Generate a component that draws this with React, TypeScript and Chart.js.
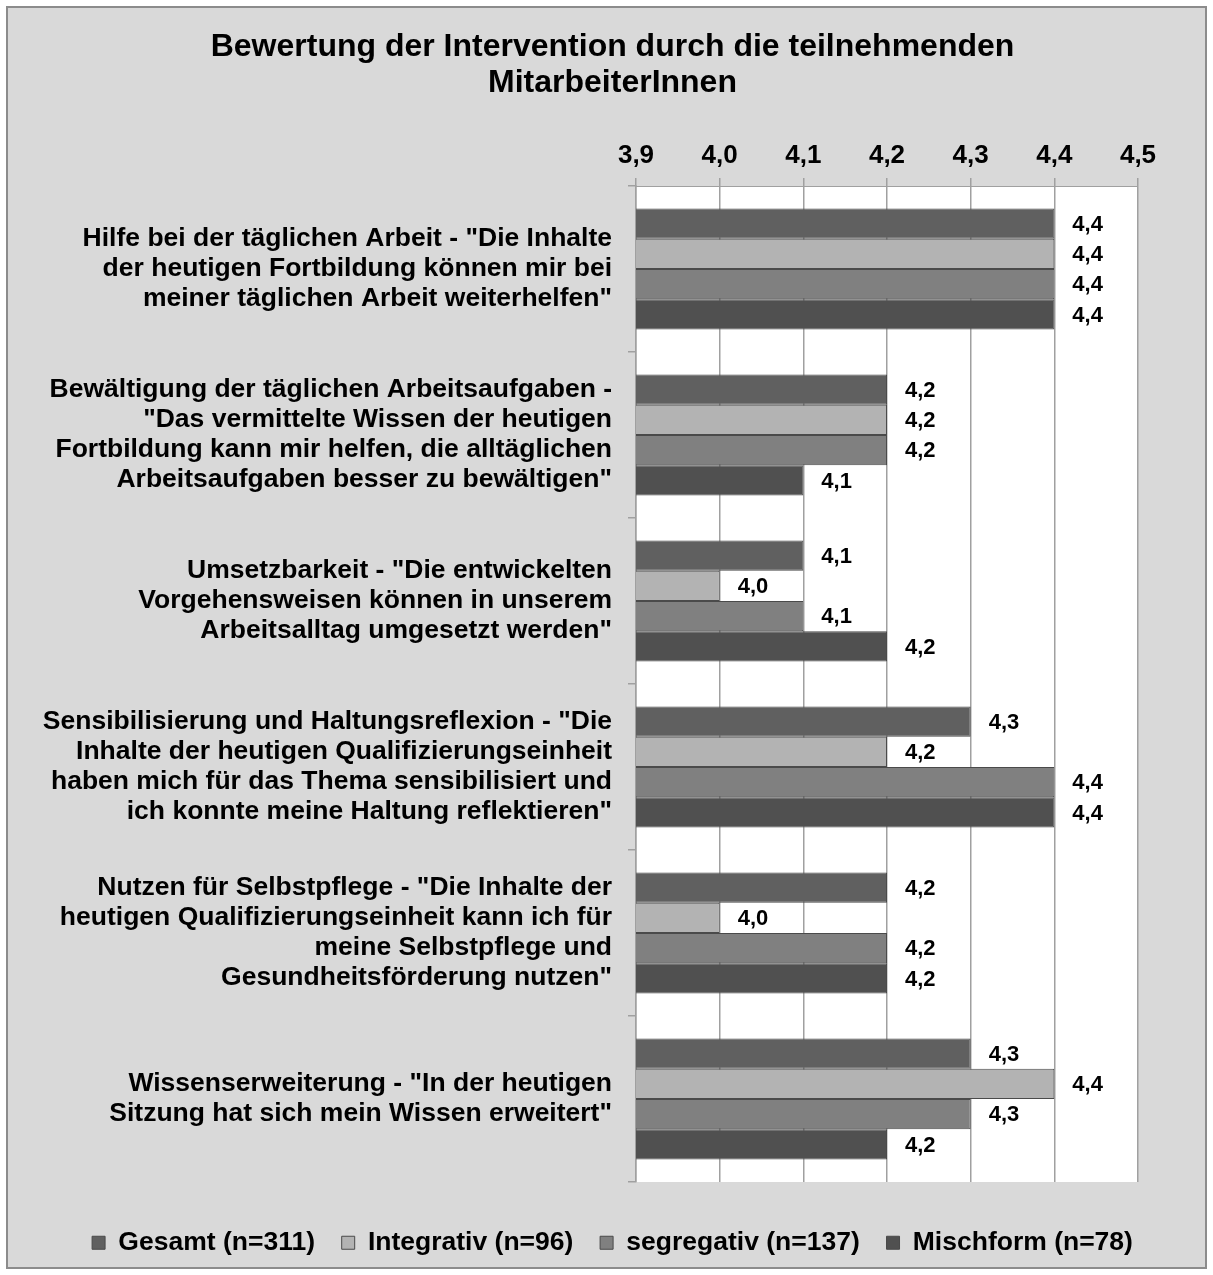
import React, { useEffect, useRef } from "react";
import { Chart, registerables } from "chart.js";

Chart.register(...registerables);

const categories: string[][] = [
  ["Hilfe bei der täglichen Arbeit - \"Die Inhalte", "der heutigen Fortbildung können mir bei", "meiner täglichen Arbeit weiterhelfen\""],
  ["Bewältigung der täglichen Arbeitsaufgaben -", "\"Das vermittelte Wissen der heutigen", "Fortbildung kann mir helfen, die alltäglichen", "Arbeitsaufgaben besser zu bewältigen\""],
  ["Umsetzbarkeit - \"Die entwickelten", "Vorgehensweisen können in unserem", "Arbeitsalltag umgesetzt werden\""],
  ["Sensibilisierung und Haltungsreflexion - \"Die", "Inhalte der heutigen Qualifizierungseinheit", "haben mich für das Thema sensibilisiert und", "ich konnte meine Haltung reflektieren\""],
  ["Nutzen für Selbstpflege - \"Die Inhalte der", "heutigen Qualifizierungseinheit kann ich für", "meine Selbstpflege und", "Gesundheitsförderung nutzen\""],
  ["Wissenserweiterung - \"In der heutigen", "Sitzung hat sich mein Wissen erweitert\""],
];

const seriesNames = ["Gesamt (n=311)", "Integrativ (n=96)", "segregativ (n=137)", "Mischform (n=78)"];
const gesamt = [4.4, 4.2, 4.1, 4.3, 4.2, 4.3];
const integrativ = [4.4, 4.2, 4.0, 4.2, 4.0, 4.4];
const segregativ = [4.4, 4.2, 4.1, 4.4, 4.2, 4.3];
const mischform = [4.4, 4.1, 4.2, 4.4, 4.2, 4.2];
const seriesColors = ["#606060", "#b3b3b3", "#808080", "#505050"];

const titleLines = ["Bewertung der Intervention durch die teilnehmenden", "MitarbeiterInnen"];
const axisMin = 3.9;
const axisMax = 4.5;
const axisStep = 0.1;

const FONT = "'Liberation Sans', Arial, sans-serif";
const fmt = (v: number) => v.toFixed(1).replace(".", ",");

export default function App() {
  const ref = useRef<HTMLCanvasElement | null>(null);
  useEffect(() => {
    if (!ref.current) return;
    const bgPlugin = {
      id: "bg",
      beforeDraw(chart: any) {
        const { ctx, width, height, chartArea } = chart;
        ctx.save();
        ctx.fillStyle = "#ffffff";
        ctx.fillRect(0, 0, width, height);
        ctx.fillStyle = "#d9d9d9";
        ctx.fillRect(7, 7, 1199, 1261);
        ctx.strokeStyle = "#8c8c8c";
        ctx.lineWidth = 2;
        ctx.strokeRect(7, 7, 1199, 1261);
        ctx.fillStyle = "#ffffff";
        ctx.fillRect(chartArea.left, chartArea.top, chartArea.right - chartArea.left, chartArea.bottom - chartArea.top);
        ctx.restore();
      },
    };
    const labelPlugin = {
      id: "vals",
      afterDatasetsDraw(chart: any) {
        const { ctx } = chart;
        ctx.save();
        ctx.font = `bold 22px ${FONT}`;
        ctx.fillStyle = "#000";
        ctx.textBaseline = "middle";
        ctx.textAlign = "left";
        chart.data.datasets.forEach((ds: any, i: number) => {
          const meta = chart.getDatasetMeta(i);
          meta.data.forEach((bar: any, j: number) => {
            ctx.fillText(fmt(ds.data[j]), bar.x + 18, bar.y + 1);
          });
        });
        ctx.restore();
      },
    };
    const chart = new Chart(ref.current, {
      type: "bar",
      data: {
        labels: categories as any,
        datasets: [gesamt, integrativ, segregativ, mischform].map((d, i) => ({
          label: seriesNames[i],
          data: d,
          backgroundColor: seriesColors[i],
          borderColor: "#4a4a4a",
          borderWidth: 1,
          categoryPercentage: 0.73,
          barPercentage: 1.0,
        })),
      },
      options: {
        indexAxis: "y",
        responsive: false,
        animation: false,
        devicePixelRatio: 1,
        layout: { padding: { left: 16, right: 4, top: 10, bottom: 9 } },
        scales: {
          x: {
            position: "top",
            min: axisMin,
            max: axisMax,
            ticks: {
              stepSize: axisStep,
              color: "#000",
              font: { family: FONT, size: 26, weight: "bold" },
              padding: 7,
              callback: (v: any) => fmt(Number(v)),
            },
            grid: { color: "#a0a0a0", lineWidth: 1.5, tickLength: 8 },
            border: { display: true, color: "#a0a0a0" },
            afterFit: (s: any) => { s.height = 85; },
          },
          x2: {
            type: "linear",
            position: "bottom",
            display: true,
            grid: { display: false },
            ticks: { display: false },
            border: { display: false },
            afterFit: (s: any) => { s.height = 35.5; },
          },
          y: {
            ticks: {
              color: "#000",
              font: { family: FONT, size: 26.5, weight: "bold", lineHeight: 1.132 },
              padding: 16,
            },
            grid: { drawOnChartArea: false, color: "#a0a0a0", tickLength: 8, lineWidth: 1.5 },
            border: { display: true, color: "#a0a0a0", width: 1.5 },
            afterFit: (s: any) => { s.width = 620; },
          },
          y2: {
            type: "linear",
            position: "right",
            display: true,
            grid: { display: false },
            ticks: { display: false },
            border: { display: false },
            afterFit: (s: any) => { s.width = 71; },
          },
        },
        plugins: {
          title: {
            display: true,
            text: titleLines,
            color: "#000",
            font: { family: FONT, size: 32, weight: "bold", lineHeight: 1.125 },
            padding: { top: 19, bottom: 0 },
          },
          legend: {
            position: "bottom",
            labels: {
              color: "#000",
              font: { family: FONT, size: 26.5, weight: "bold" },
              boxWidth: 13,
              boxHeight: 13,
              padding: 12,
              generateLabels: (c: any) => {
                const items = Chart.defaults.plugins.legend.labels.generateLabels(c);
                return items.map((it: any, i: number) => ({
                  ...it,
                  text: i < items.length - 1 ? it.text + "  " : it.text,
                  lineWidth: 1,
                  strokeStyle: "#4a4a4a",
                }));
              },
            },
          },
          tooltip: { enabled: false },
        },
      } as any,
      plugins: [bgPlugin, labelPlugin],
    });
    return () => chart.destroy();
  }, []);
  return (
    <div style={{ position: "absolute", left: 0, top: 0, width: 1213, height: 1275 }}>
      <canvas ref={ref} width={1213} height={1275} style={{ display: "block", width: 1213, height: 1275 }} />
    </div>
  );
}
